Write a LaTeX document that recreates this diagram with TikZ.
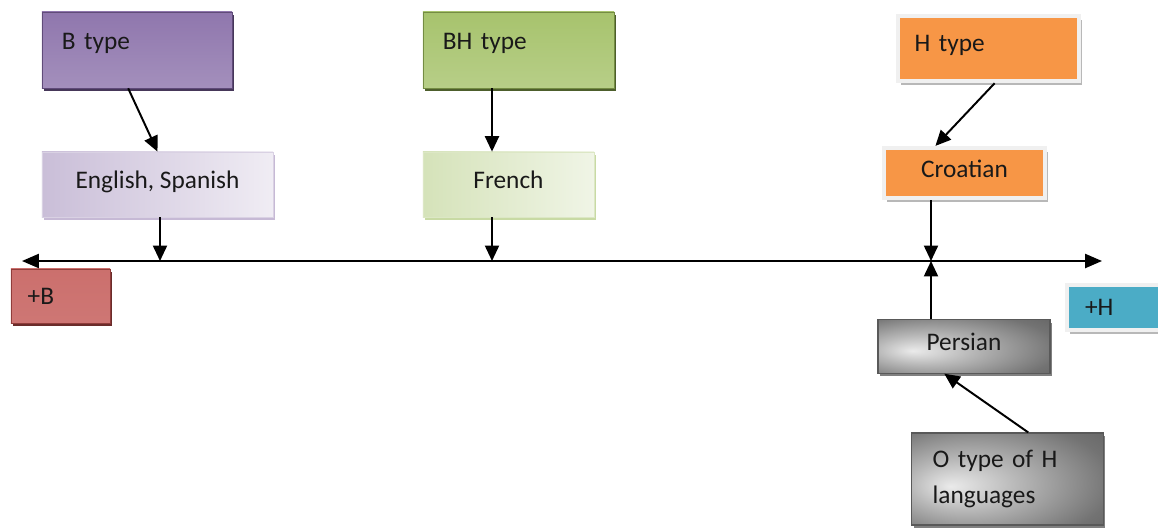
\documentclass[tikz,border=0pt]{standalone}
\usepackage{fontspec}
\setmainfont{Carlito}
\usetikzlibrary{shadows,arrows.meta}

\definecolor{bpurple}{HTML}{8064A2}
\definecolor{bgreen}{HTML}{9BBB59}
\definecolor{horange}{HTML}{F79646}
\definecolor{bred}{HTML}{C0504D}
\definecolor{hteal}{HTML}{4BACC6}

% light spot left of centre, dark towards the corners
\pgfdeclareradialshading{greyspot}{\pgfpoint{-15bp}{-4bp}}{%
  color(0bp)=(black!8); color(14bp)=(black!28); color(34bp)=(black!55); color(60bp)=(black!72)}

\tikzset{
  box/.style={rectangle, inner sep=0pt, font=\fontsize{18}{25}\selectfont, text=black!90},
  topbox/.style={box, minimum height=1.9cm, inner xsep=.5cm, align=left,
    text height=.45cm, text depth=.5cm},
  midbox/.style={box, minimum height=1.63cm, text height=.42cm, text depth=.2cm},
  flatbox/.style={box, fill=#1, draw=black!6, line width=3pt,
    drop shadow={shadow xshift=2pt, shadow yshift=-3pt, fill=black!35, opacity=.8}},
  greybox/.style={box, draw=black!65, line width=.8pt, shading=greyspot,
    drop shadow={shadow xshift=1.5pt, shadow yshift=-2pt, fill=black!50, opacity=1}},
  arr/.style={-{Triangle[length=11pt,width=10pt]}, line width=1.4pt}
}

\begin{document}
\begin{tikzpicture}[x=0.025cm, y=-0.025cm]
\useasboundingbox (0,0) rectangle (1158,527);

% B side
\node[topbox, text width=3.75cm, draw=bpurple!75!black, top color=bpurple!88!white,
  middle color=bpurple!88!black, bottom color=bpurple!72!white,
  drop shadow={shadow xshift=1.5pt, shadow yshift=-2pt, fill=bpurple!55!black, opacity=1}]
  (btype) at (137,50) {B type};
\node[midbox, minimum width=5.78cm, draw=bpurple!30, left color=bpurple!42!white,
  right color=bpurple!12!white,
  drop shadow={shadow xshift=1.5pt, shadow yshift=-2pt, fill=bpurple!45, opacity=1}]
  (english) at (157.5,184.5) {English, Spanish};

% BH side
\node[topbox, text width=3.78cm, draw=bgreen!75!black, top color=bgreen!88!white,
  middle color=bgreen!90!black, bottom color=bgreen!72!white,
  drop shadow={shadow xshift=1.5pt, shadow yshift=-2pt, fill=bgreen!50!black, opacity=1}]
  (bhtype) at (518.5,50) {BH type};
\node[midbox, minimum width=4.28cm, draw=bgreen!35, left color=bgreen!42!white,
  right color=bgreen!15!white,
  drop shadow={shadow xshift=1.5pt, shadow yshift=-2pt, fill=bgreen!55, opacity=1}]
  (french) at (508.5,184.5) {French};

% H side
\node[flatbox=horange, topbox, minimum height=1.63cm, text width=3.69cm, inner xsep=.42cm,
  text depth=.32cm] (htype) at (988.5,48.5) {H type};
\node[flatbox=horange, midbox, minimum width=4.03cm, minimum height=1.25cm]
  (croatian) at (964.5,173) {Croatian};

% poles
\node[box, minimum height=1.35cm, text width=1.64cm, inner xsep=.42cm, align=left,
  draw=bred!75!black, top color=bred!82!white, middle color=bred!95!black,
  bottom color=bred!78!white,
  drop shadow={shadow xshift=1.5pt, shadow yshift=-2pt, fill=bred!55!black, opacity=1}]
  (plusb) at (60.5,296) {+B};
\node[flatbox=hteal, minimum height=1.13cm, text width=1.8cm, inner xsep=.45cm, align=left]
  (plush) at (1121,307.5) {+H};

% O type
\node[greybox, minimum width=4.3cm, minimum height=1.33cm, text height=.42cm, text depth=.2cm]
  (persian) at (964,346.5) {Persian};
\node[greybox, minimum height=2.3cm, text width=3.74cm, inner xsep=.52cm, align=left]
  (otype) at (1007.5,479) {O type of H\\languages};

% the B--H axis
\coordinate (axl) at (22,261);
\coordinate (axr) at (1102,261);
\coordinate (bpt) at (160,261);
\coordinate (fpt) at (492,261);
\coordinate (hpt) at (931,261);
\draw[{Triangle[length=12pt,width=10pt]}-{Triangle[length=12pt,width=10pt]}, line width=1.4pt]
  (axl) -- (axr);

\draw[arr] (btype.257) -- (english.north);
\draw[arr] (bhtype.south -| fpt) -- (french.north -| fpt);
\draw[arr] (htype.280) -- (croatian.137);
\draw[arr] (english.south -| bpt) -- (bpt);
\draw[arr] (french.south -| fpt) -- (fpt);
\draw[arr] (croatian.south -| hpt) -- (hpt);
\draw[arr] (persian.north -| hpt) -- (hpt);
\draw[arr] (otype.66) -- (persian.234);
\end{tikzpicture}
\end{document}
